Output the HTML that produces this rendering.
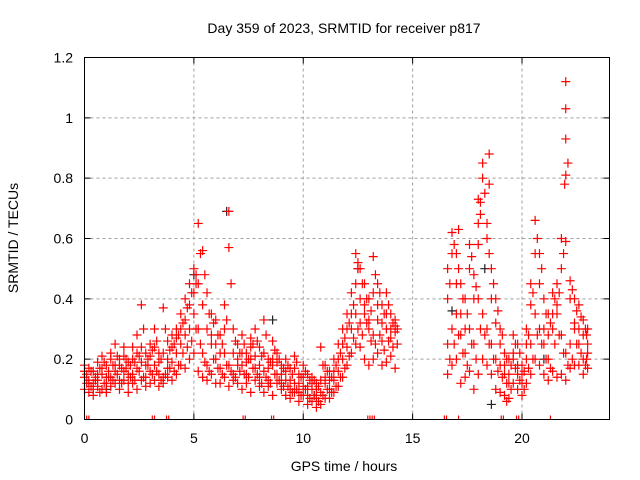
<!DOCTYPE html>
<html><head><meta charset="utf-8"><style>
body{margin:0;background:#fff}
svg{display:block;font-family:"Liberation Sans",sans-serif}
</style></head><body>
<svg id="chart" width="640" height="480" xmlns="http://www.w3.org/2000/svg">
<text x="344" y="33" text-anchor="middle" font-size="14">Day 359 of 2023, SRMTID for receiver p817</text>
<text x="344" y="471" text-anchor="middle" font-size="14">GPS time / hours</text>
<text transform="translate(18,238) rotate(-90)" text-anchor="middle" font-size="14">SRMTID / TECUs</text>
<g id="grid"></g>
<g id="ticks"></g>
<g id="marks"></g>
<rect x="84.5" y="57.5" width="525" height="362" fill="none" stroke="#000" stroke-width="1"/>
</svg>
<script>
const times=[0,0.2,0.4,0.6,0.8,1.0,1.2,1.4,1.6,1.8,2.0,2.2,2.4,2.6,2.8,3.0,3.2,3.4,3.6,3.8,4.0,4.2,4.4,4.6,4.8,5.0,5.2,5.4,5.6,5.8,6.0,6.2,6.4,6.6,6.8,7.0,7.2,7.4,7.6,7.8,8.0,8.2,8.4,8.6,8.8,9.0,9.2,9.4,9.6,9.8,10.0,10.2,10.4,10.6,10.8,11.0,11.2,11.4,11.6,11.8,12.0,12.2,12.4,12.6,12.8,13.0,13.2,13.4,13.6,13.8,14.0,14.2,
16.6,16.8,17.0,17.2,17.4,17.6,17.8,18.0,18.2,18.4,18.6,18.8,19.0,19.2,19.4,19.6,19.8,20.0,20.2,20.4,20.6,20.8,21.0,21.2,21.4,21.6,21.8,22.0,22.2,22.4,22.6,22.8,23.0];
const times2=[0.1,0.3,0.5,0.7,0.9,1.1,1.3,1.5,1.7,1.9,2.1,2.3,2.5,2.7,2.9,3.1,3.3,3.5,3.7,3.9,4.1,4.3,4.5,4.7,4.9,5.1,5.3,5.5,5.7,5.9,6.1,6.3,6.5,6.7,6.9,7.1,7.3,7.5,7.7,7.9,8.1,8.3,8.5,8.7,8.9,9.1,9.3,9.5,9.7,9.9,10.1,10.3,10.5,10.7,10.9,11.1,11.3,11.5,11.7,11.9,12.1,12.3,12.5,12.7,12.9,13.1,13.3,13.5,13.7,13.9,14.1,14.3,
16.7,16.9,17.1,17.3,17.5,17.7,17.9,18.1,18.3,18.5,18.7,18.9,19.1,19.3,19.5,19.7,19.9,20.1,20.3,20.5,20.7,20.9,21.1,21.3,21.5,21.7,21.9,22.1,22.3,22.5,22.7,22.9,22.95];
const s1=[.14,.12,.10,.13,.15,.12,.14,.18,.13,.16,.12,.15,.17,.19,.14,.16,.18,.15,.14,.17,.19,.22,.25,.28,.30,.35,.30,.22,.18,.25,.20,.17,.22,.18,.15,.20,.18,.15,.20,.17,.14,.16,.13,.18,.15,.12,.13,.10,.12,.09,.11,.08,.10,.07,.09,.12,.10,.13,.16,.20,.24,.30,.35,.32,.38,.30,.28,.33,.26,.30,.27,.29,
.25,.30,.35,.28,.22,.30,.25,.40,.35,.30,.25,.20,.18,.15,.12,.20,.15,.12,.20,.25,.35,.30,.25,.20,.30,.35,.28,.22,.25,.30,.25,.20,.22];
const s2=[.10,.09,.08,.11,.10,.09,.11,.12,.10,.13,.09,.12,.10,.13,.11,.12,.13,.11,.12,.14,.13,.15,.18,.17,.20,.22,.16,.14,.13,.15,.12,.12,.14,.11,.13,.12,.10,.12,.09,.13,.11,.09,.11,.08,.12,.10,.08,.07,.09,.06,.08,.05,.06,.04,.05,.07,.07,.09,.11,.14,.18,.22,.25,.24,.20,.18,.20,.22,.18,.19,.21,.17,
.15,.18,.20,.12,.14,.16,.10,.15,.20,.18,.15,.10,.09,.08,.07,.12,.10,.08,.12,.15,.20,.18,.15,.13,.16,.14,.15,.13,.17,.18,.18,.15,.17];
const s3=[.18,.17,.16,.19,.21,.18,.22,.25,.20,.24,.19,.24,.28,.38,.22,.25,.30,.22,.37,.26,.28,.30,.35,.40,.45,.50,.65,.56,.42,.35,.33,.28,.38,.69,.30,.25,.28,.22,.27,.30,.24,.33,.20,.26,.22,.18,.20,.17,.21,.15,.18,.15,.14,.12,.24,.18,.16,.20,.25,.30,.35,.42,.55,.50,.45,.40,.54,.45,.38,.42,.35,.33,
.50,.62,.55,.45,.40,.58,.48,.73,.85,.65,.50,.40,.30,.22,.20,.28,.25,.18,.30,.45,.66,.55,.40,.35,.42,.45,.60,1.12,.46,.40,.38,.33,.30];
const s4=[.16,.13,.12,.15,.17,.14,.20,.16,.18,.21,.15,.20,.22,.24,.18,.21,.24,.19,.22,.20,.24,.27,.30,.33,.38,.42,.45,.38,.30,.28,.25,.22,.30,.57,.22,.18,.22,.19,.24,.21,.18,.22,.17,.20,.19,.15,.16,.13,.17,.12,.14,.11,.12,.10,.13,.14,.13,.16,.20,.25,.30,.35,.45,.40,.35,.33,.42,.38,.32,.35,.30,.31,
.40,.55,.45,.35,.30,.50,.40,.65,.80,.60,.40,.32,.25,.18,.15,.22,.18,.15,.25,.38,.55,.45,.30,.28,.35,.38,.50,1.03,.40,.32,.30,.28,.25];
const s5=[.12,.11,.13,.09,.12,.14,.13,.15,.12,.17,.14,.13,.16,.14,.18,.15,.16,.13,.15,.17,.16,.18,.22,.24,.26,.30,.25,.19,.16,.20,.17,.15,.18,.16,.14,.16,.15,.14,.17,.15,.12,.14,.12,.15,.13,.11,.11,.09,.10,.08,.10,.07,.08,.06,.08,.10,.09,.11,.14,.17,.21,.27,.30,.28,.32,.26,.25,.28,.23,.26,.24,.25,
.20,.25,.28,.22,.18,.25,.20,.30,.28,.25,.20,.16,.14,.12,.10,.17,.13,.10,.17,.20,.28,.25,.20,.17,.25,.28,.22,.18,.20,.25,.22,.18,.20];
const s6=[.15,.16,.14,.17,.19,.16,.18,.21,.17,.20,.18,.19,.21,.30,.20,.23,.26,.20,.30,.23,.25,.28,.32,.37,.42,.45,.55,.48,.35,.32,.28,.25,.33,.45,.26,.22,.25,.20,.25,.26,.21,.28,.19,.23,.20,.17,.18,.15,.19,.14,.16,.13,.13,.11,.18,.16,.14,.18,.22,.27,.32,.38,.50,.45,.40,.36,.48,.42,.35,.38,.32,.30,
.45,.58,.50,.40,.35,.54,.44,.68,.75,.55,.45,.36,.28,.20,.18,.25,.22,.16,.28,.42,.60,.50,.35,.32,.40,.42,.55,.85,.43,.36,.34,.30,.28];
const outT=[22.0,22.0,22.0,21.95,18.1,18.5,18.5,17.1,18.0,19.3,5.1,12.5];
const outV=[.93,.81,.59,.78,.72,.78,.88,.63,.58,.06,.48,.52];
const blackT=[6.5,5.0,12.5,18.3,18.6,8.6,1.0,10.5,16.8,21.0];
const blackV=[.69,.48,.50,.50,.05,.33,.10,.08,.36,.20];
const zeroT=[0.1,0.2,3.1,3.2,3.75,3.85,7.25,7.35,8.55,8.65,12.95,13.05,13.15,13.25,16.45,16.55,17.1,19.05,19.15,19.75,19.85,21.3];
const xTicks=[0,5,10,15,20];
const yTicks=[0,0.2,0.4,0.6,0.8,1,1.2];
const yTickLabels=["0","0.2","0.4","0.6","0.8","1","1.2"];

const X0=84.5,X1=609.5,Y0=419.5,Y1=57.5,XMAX=24,YMAX=1.2;
const xs=v=>X0+(v/XMAX)*(X1-X0);
const ys=v=>Y0-(v/YMAX)*(Y0-Y1);
const NS="http://www.w3.org/2000/svg";
function mk(tag,attrs,parent){const e=document.createElementNS(NS,tag);for(const k in attrs)e.setAttribute(k,attrs[k]);parent.appendChild(e);return e;}
const grid=document.getElementById('grid'),ticks=document.getElementById('ticks'),marks=document.getElementById('marks');
yTicks.forEach((v,i)=>{
  const y=ys(v);
  if(v>0&&v<YMAX){const g=mk('line',{x1:X0,x2:X1,y1:y,y2:y,stroke:'#a0a0a0','stroke-dasharray':'3,3'},grid);
  
  }
  const t=mk('path',{d:`M${X0},${y}h6M${X1},${y}h-6`,stroke:'#000'},ticks);
  
  
  const l=mk('text',{x:73,y:y+5,'text-anchor':'end','font-size':'14'},ticks);
  l.textContent=yTickLabels[i];
  
  
});
xTicks.forEach(v=>{
  const x=xs(v);
  if(v>0){const g=mk('line',{x1:x,x2:x,y1:Y0,y2:Y1,stroke:'#a0a0a0','stroke-dasharray':'3,3'},grid);
  
  }
  const t=mk('path',{d:`M${x},${Y0}v-6M${x},${Y1}v6`,stroke:'#000'},ticks);
  
  
  const l=mk('text',{x:x,y:443,'text-anchor':'middle','font-size':'14'},ticks);
  l.textContent=String(v);
  
  
});
function cross(t,v,color,name){
  const x=xs(t),y=ys(v);
  const p=mk('path',{d:`M${x-4.5},${y}h9M${x},${y-4.5}v9`,stroke:color,'stroke-width':1.2,fill:'none'},marks);
  
  
}
blackT.forEach((t,i)=>cross(t,blackV[i],'#202020','black-point'));
[s2,s1,s4,s3].forEach(s=>times.forEach((t,i)=>cross(t,s[i],'#ff0000','red-point')));
[s5,s6].forEach(s=>times2.forEach((t,i)=>cross(t,s[i],'#ff0000','red-point')));
outT.forEach((t,i)=>cross(t,outV[i],'#ff0000','outlier-point'));
zeroT.forEach(t=>{
  const x=xs(t);
  const p=mk('line',{x1:x,x2:x,y1:Y0-4,y2:Y0,stroke:'#ff0000','stroke-width':1.2},marks);
  
  
});
</script>
</body></html>
